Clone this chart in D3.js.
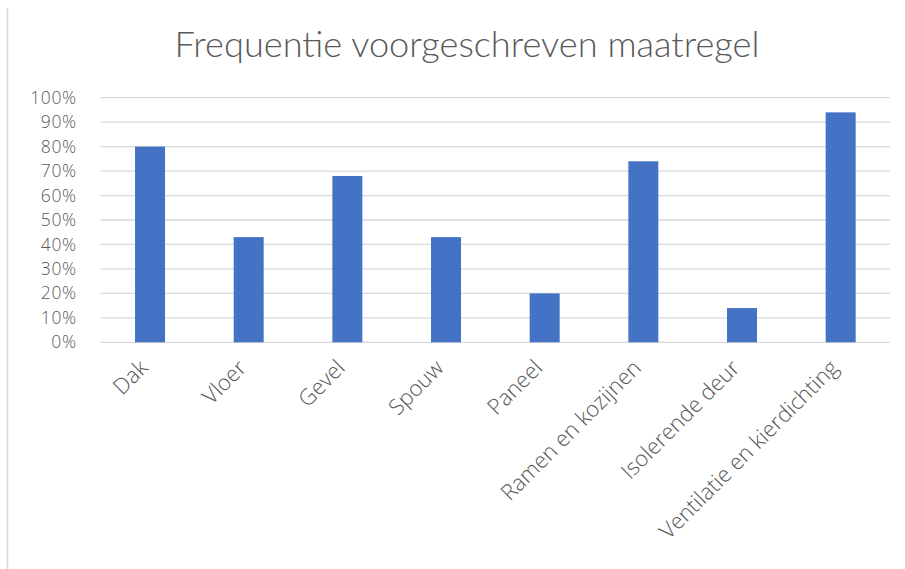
<!DOCTYPE html>
<html><head><meta charset="utf-8">
<script src="https://cdn.jsdelivr.net/npm/d3@7"></script>
<style>body{margin:0;background:#fff}</style>
</head><body>
<svg id="c" width="905" height="569"></svg>
<script>
const categories = ["Dak","Vloer","Gevel","Spouw","Paneel","Ramen en kozijnen","Isolerende deur","Ventilatie en kierdichting"];
const values = [0.80, 0.43, 0.68, 0.43, 0.20, 0.74, 0.14, 0.94];
const yTicks = [0,0.1,0.2,0.3,0.4,0.5,0.6,0.7,0.8,0.9,1.0];
const title = "Frequentie voorgeschreven maatregel";

const svg = d3.select("#c");
const font = "'Open Sans', Lato, sans-serif";
const titleFont = "Lato, 'Open Sans', sans-serif";
const textColor = "#595959";
const m = {left:100.7, right:890, top:97.7, bottom:342.3};

svg.append("line").attr("x1",7.5).attr("x2",7.5).attr("y1",8).attr("y2",569)
  .attr("stroke","#d9d9d9").attr("stroke-width",1.5);

const x = d3.scaleBand().domain(categories).range([m.left,m.right]).paddingInner(0.696).paddingOuter(0.348);
const y = d3.scaleLinear().domain([0,1]).range([m.bottom,m.top]);

// gridlines
svg.append("g").selectAll("line").data(yTicks).join("line")
  .attr("x1",m.left).attr("x2",m.right)
  .attr("y1",d=>y(d)).attr("y2",d=>y(d))
  .attr("stroke","#d9d9d9").attr("stroke-width",1.3);

// y axis
const ya = svg.append("g").attr("transform",`translate(${m.left},0)`)
  .call(d3.axisLeft(y).tickValues(yTicks).tickFormat(d3.format(".0%")).tickSize(0).tickPadding(24));
ya.select(".domain").remove();
ya.selectAll("text").attr("font-family",font).attr("font-weight",300).attr("font-size",17.5)
  .attr("letter-spacing",0.6).attr("fill",textColor);

// bars
svg.append("g").selectAll("rect").data(values).join("rect")
  .attr("x",(d,i)=>x(categories[i])).attr("width",x.bandwidth())
  .attr("y",d=>y(d)).attr("height",d=>y(0)-y(d))
  .attr("fill","#4472C4");

// x axis
const xa = svg.append("g").attr("transform",`translate(0,${m.bottom})`)
  .call(d3.axisBottom(x).tickSize(0).tickPadding(0));
xa.select(".domain").remove();
xa.selectAll("text")
  .attr("font-family",font).attr("font-weight",300).attr("font-size",16).attr("fill",textColor)
  .attr("text-anchor","end").attr("dy",0)
  .attr("transform","translate(-1,27) rotate(-45)");
{
  const n = xa.selectAll("text").filter(d=>d===categories[7]).node();
  const fs = 16*242/n.getComputedTextLength();
  xa.selectAll("text").attr("font-size",fs);
}

// title
const t = svg.append("text").attr("x",467).attr("y",57).attr("text-anchor","middle")
  .attr("font-family",titleFont).attr("font-weight",300).attr("font-size",28).attr("fill",textColor)
  .text(title);
const w = t.node().getComputedTextLength();
t.attr("font-size", 28*585/w);
</script>
</body></html>
